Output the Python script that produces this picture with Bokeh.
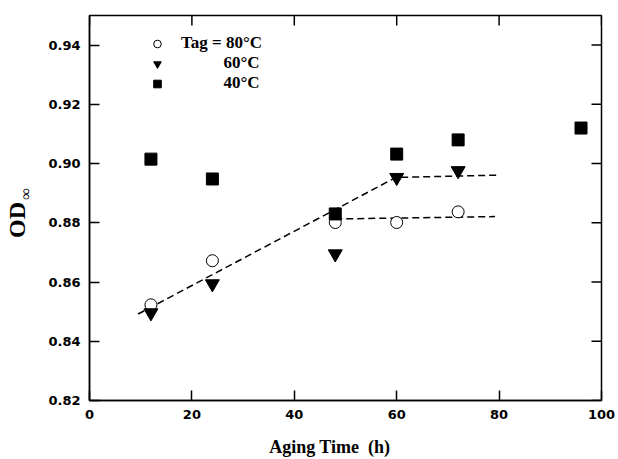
from bokeh.plotting import figure
from bokeh.models import FixedTicker, Legend, LegendItem, Range1d, LinearAxis
from bokeh.embed import file_html
from bokeh.resources import INLINE

# ---- data ----
hours_80 = [12, 24, 48, 60, 72]
od_80 = [0.8523, 0.8672, 0.8801, 0.8801, 0.8837]

hours_60 = [12, 24, 48, 60, 72]
od_60 = [0.8496, 0.8594, 0.8695, 0.8953, 0.8976]

hours_40 = [12, 24, 48, 60, 72, 96]
od_40 = [0.9015, 0.8948, 0.8830, 0.9032, 0.9080, 0.9120]

fit_rise_x = [9.5, 59.8, 79.8]
fit_rise_y = [0.8492, 0.8953, 0.8961]
fit_flat_x = [48, 79.2]
fit_flat_y = [0.8813, 0.8821]

x_start, x_end = 0, 100
y_start, y_end = 0.82, 0.95
x_ticks = [0, 20, 40, 60, 80, 100]
y_ticks = [0.82, 0.84, 0.86, 0.88, 0.90, 0.92, 0.94]
y_tick_labels = ["0.82", "0.84", "0.86", "0.88", "0.90", "0.92", "0.94"]

legend_labels = ["Tag = 80°C", "\u00a0" * 10 + "60°C", "\u00a0" * 10 + "40°C"]
x_title = "Aging Time\u00a0 (h)" + "\u00a0" * 7
y_title = "OD" + "\u00a0" * 4
y_sub = "\u00a0" * 7 + "∞"

# ---- layout ----
W, H = 618, 459
B_LEFT, B_RIGHT, B_TOP, B_BOTTOM = 89, 17, 15, 59
TICK = 10
frame_w = W - B_LEFT - B_RIGHT
frame_h = H - B_TOP - B_BOTTOM

p = figure(width=W, height=H,
           x_range=Range1d(x_start, x_end), y_range=Range1d(y_start, y_end),
           output_backend="svg", toolbar_location=None,
           min_border_left=B_LEFT, min_border_right=B_RIGHT,
           min_border_top=B_TOP, min_border_bottom=B_BOTTOM)
p.xgrid.visible = False
p.ygrid.visible = False
p.outline_line_color = "black"
p.outline_line_width = 1.5
p.background_fill_color = "white"
p.border_fill_color = "white"

p.xaxis.ticker = FixedTicker(ticks=x_ticks)
p.yaxis.ticker = FixedTicker(ticks=y_ticks)
p.yaxis.major_label_overrides = dict(zip(y_ticks, y_tick_labels))

for ax in p.axis:
    ax.axis_line_color = "black"
    ax.axis_line_width = 1.5
    ax.major_tick_line_color = "black"
    ax.major_tick_line_width = 1.5
    ax.major_tick_in = TICK
    ax.major_tick_out = 0
    ax.minor_tick_line_color = None
    ax.major_label_text_font = "DejaVu Sans"
    ax.major_label_text_font_style = "bold"
    ax.major_label_text_font_size = "13px"
    ax.major_label_text_color = "black"

xb = p.xaxis[0]
xb.major_label_standoff = 9
xb.axis_label = x_title
xb.axis_label_text_font = "Liberation Serif"
xb.axis_label_text_font_style = "bold"
xb.axis_label_text_font_size = "18px"
xb.axis_label_text_color = "black"
xb.axis_label_standoff = 15

yl = p.yaxis[0]
yl.major_label_standoff = 9


def title_axis(text, size, standoff):
    ax = LinearAxis(ticker=FixedTicker(ticks=[]), axis_line_color=None,
                    major_tick_line_color=None, minor_tick_line_color=None,
                    major_tick_in=0, major_tick_out=0, major_label_standoff=0,
                    axis_label=text, axis_label_standoff=standoff,
                    axis_label_text_font="Liberation Serif",
                    axis_label_text_font_style="bold",
                    axis_label_text_font_size=size,
                    axis_label_text_color="black")
    p.add_layout(ax, "left")
    return ax


title_axis(y_sub, "16px", 12)     # subscript infinity, nearer the frame
title_axis(y_title, "24px", -16)  # "OD"

# mirrored inward ticks on top and right edges
dy = TICK * (y_end - y_start) / frame_h
dx = TICK * (x_end - x_start) / frame_w
p.segment(x0=x_ticks, y0=[y_end] * len(x_ticks),
          x1=x_ticks, y1=[y_end - dy] * len(x_ticks),
          line_color="black", line_width=1.5)
p.segment(x0=[x_end] * len(y_ticks), y0=y_ticks,
          x1=[x_end - dx] * len(y_ticks), y1=y_ticks,
          line_color="black", line_width=1.5)

# ---- data marks ----
p.line(fit_rise_x, fit_rise_y, line_color="black", line_width=1.5,
       line_dash="7 4")
p.line(fit_flat_x, fit_flat_y, line_color="black", line_width=1.5,
       line_dash="7 4")

r80 = p.scatter(hours_80, od_80, marker="circle", size=12,
                fill_color="white", line_color="black", line_width=1)
r60 = p.scatter(hours_60, od_60, marker="inverted_triangle", size=14,
                fill_color="black", line_color="black")
r40 = p.scatter(hours_40, od_40, marker="square", size=12,
                fill_color="black", line_color="black")

legend = Legend(items=[LegendItem(label=legend_labels[0], renderers=[r80]),
                       LegendItem(label=legend_labels[1], renderers=[r60]),
                       LegendItem(label=legend_labels[2], renderers=[r40])],
                location=(58, 307), padding=0, spacing=0, margin=0,
                glyph_width=20, glyph_height=19, label_height=19,
                label_standoff=14,
                label_text_font="Liberation Serif",
                label_text_font_style="bold",
                label_text_font_size="17px",
                label_text_color="black",
                border_line_alpha=0, background_fill_alpha=0)
p.add_layout(legend)

open("out.html", "w").write(file_html(p, INLINE))
